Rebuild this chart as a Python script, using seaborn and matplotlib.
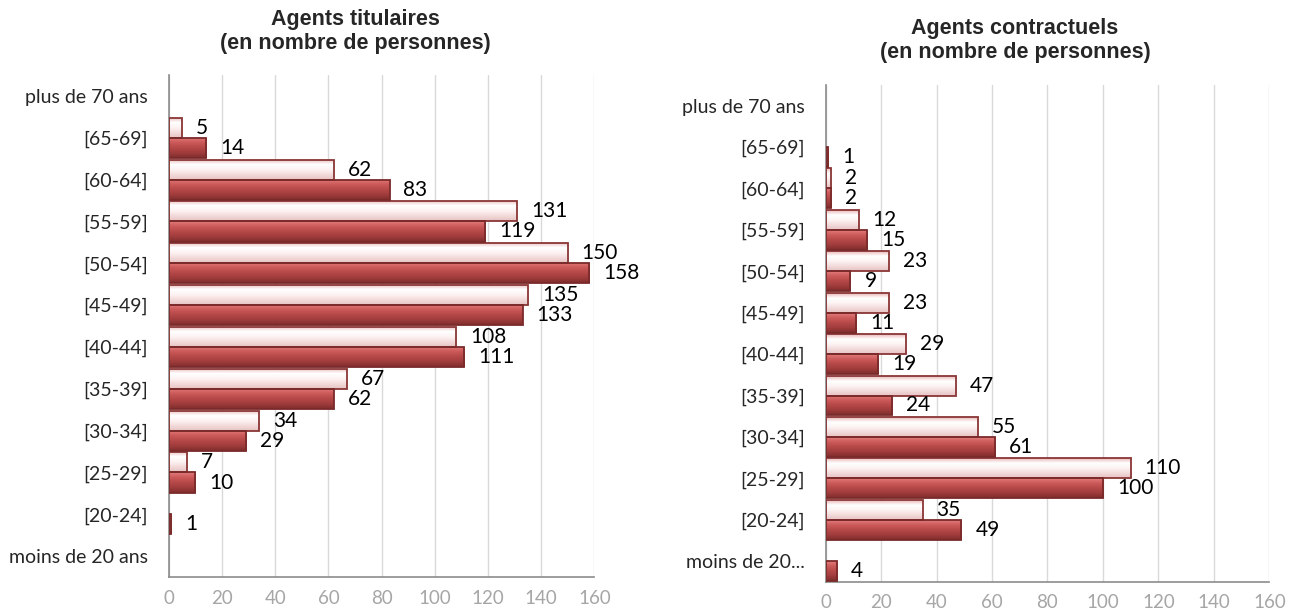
import numpy as np
import pandas as pd
import matplotlib
matplotlib.use('Agg')
import matplotlib.pyplot as plt
from matplotlib.colors import LinearSegmentedColormap
import seaborn as sns

# tranches d'age, de haut en bas
tranches_tit = ['plus de 70 ans', '[65-69]', '[60-64]', '[55-59]', '[50-54]', '[45-49]',
                '[40-44]', '[35-39]', '[30-34]', '[25-29]', '[20-24]', 'moins de 20 ans']
tranches_con = ['plus de 70 ans', '[65-69]', '[60-64]', '[55-59]', '[50-54]', '[45-49]',
                '[40-44]', '[35-39]', '[30-34]', '[25-29]', '[20-24]', 'moins de 20...']

# serie claire (barre du haut) et serie foncee (barre du bas)
tit_clair = [np.nan, 5, 62, 131, 150, 135, 108, 67, 34, 7, np.nan, np.nan]
tit_fonce = [np.nan, 14, 83, 119, 158, 133, 111, 62, 29, 10, 1, np.nan]
con_clair = [np.nan, np.nan, 2, 12, 23, 23, 29, 47, 55, 110, 35, np.nan]
con_fonce = [np.nan, 1, 2, 15, 9, 11, 19, 24, 61, 100, 49, 4]

series = ['clair', 'fonce']
ticks_x = [0, 20, 40, 60, 80, 100, 120, 140, 160]

degrade = {
    'clair': LinearSegmentedColormap.from_list('cl', ['#EBB9B9', '#FFFFFF', '#FDF3F3', '#F3DADA', '#E6C3C3']),
    'fonce': LinearSegmentedColormap.from_list('fo', ['#E27B7B', '#CC5A5A', '#B64848', '#A03C3C', '#7E2C2C']),
}
bords = {'clair': '#8A3636', 'fonce': '#7A2A2A'}
police = ['Lato', 'DejaVu Sans']


def tracer(ax, tranches, clair, fonce):
    df = pd.DataFrame({
        'tranche': tranches * 2,
        'serie': ['clair'] * len(tranches) + ['fonce'] * len(tranches),
        'valeur': clair + fonce,
    })
    sns.barplot(data=df, y='tranche', x='valeur', hue='serie', order=tranches,
                hue_order=series, orient='h', width=0.96, dodge=True, legend=False,
                palette={'clair': '#F8E5E5', 'fonce': '#B64848'}, ax=ax,
                errorbar=None)

    # effet de relief : degrade vertical dans chaque barre
    for serie, cont in zip(series, ax.containers):
        for p in cont.patches:
            w = p.get_width()
            if not np.isfinite(w) or w <= 0:
                continue
            x0, y0 = p.get_x(), p.get_y()
            h = p.get_height()
            grad = np.linspace(0, 1, 64).reshape(-1, 1)
            im = ax.imshow(grad, extent=(x0, x0 + w, y0 + h, y0), origin='upper',
                           aspect='auto', cmap=degrade[serie], zorder=2)
            im.set_clip_path(p)
            p.set_facecolor('none')
            p.set_edgecolor(bords[serie])
            p.set_linewidth(1.3)
            p.set_zorder(3)
        labels = ['' if not np.isfinite(v) else f'{v:.0f}' for v in cont.datavalues]
        ax.bar_label(cont, labels=labels, padding=10, fontsize=15,
                     family=police, color='black')

    ax.set_xlim(0, 160)
    ax.set_ylim(len(tranches) - 0.5, -0.5)
    ax.set_xticks(ticks_x)
    ax.set_xlabel('')
    ax.set_ylabel('')
    ax.grid(axis='x', color='#D9D9D9', linewidth=1)
    ax.grid(axis='y', visible=False)
    ax.set_axisbelow(True)
    for s in ['top', 'right']:
        ax.spines[s].set_visible(False)
    for s in ['left', 'bottom']:
        ax.spines[s].set_color('#8C8C8C')
        ax.spines[s].set_linewidth(1.2)
    ax.tick_params(axis='both', length=0)
    ax.tick_params(axis='x', pad=9, labelcolor='#A6A6A6', labelsize=13.5)
    ax.tick_params(axis='y', pad=15, labelsize=14)
    for t in ax.get_xticklabels() + ax.get_yticklabels():
        t.set_family(police)


sns.set_style('white')
fig = plt.figure(figsize=(12.98, 6.10), dpi=100)
ax1 = fig.add_axes([0.130, 0.054, 0.328, 0.823])
ax2 = fig.add_axes([0.636, 0.046, 0.342, 0.815])

tracer(ax1, tranches_tit, tit_clair, tit_fonce)
tracer(ax2, tranches_con, con_clair, con_fonce)

titre_font = ['Liberation Sans Narrow', 'Liberation Sans', 'DejaVu Sans']
fig.text(0.274, 0.949, 'Agents titulaires\n(en nombre de personnes)', ha='center', va='center',
         fontsize=15.5, fontweight='bold', family=titre_font, linespacing=1.2)
fig.text(0.782, 0.933, 'Agents contractuels\n(en nombre de personnes)', ha='center', va='center',
         fontsize=15.5, fontweight='bold', family=titre_font, linespacing=1.2)

fig.savefig('out.png', dpi=100)
